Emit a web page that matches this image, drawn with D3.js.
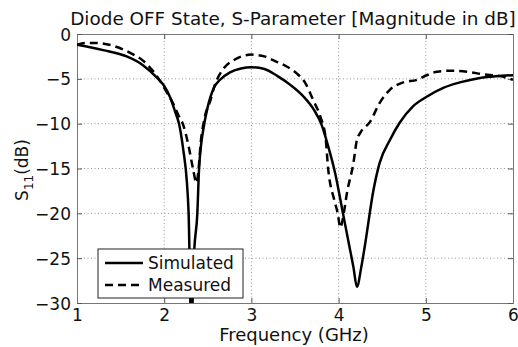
<!DOCTYPE html>
<html>
<head>
<meta charset="utf-8">
<script src="https://cdn.jsdelivr.net/npm/d3@7"></script>
<style>
  body { margin: 0; background: #fff; }
  text { font-family: "DejaVu Sans", Arial, sans-serif; fill: #111; }
</style>
</head>
<body>
<svg id="chart" width="518" height="347"></svg>
<script>
// tick values
const xTicks = [1, 2, 3, 4, 5, 6];
const yTicks = [0, -5, -10, -15, -20, -25, -30];

// simulated S11 (solid)
const simFreq = [1.0, 1.3, 1.57, 1.76, 1.92, 2.0, 2.07, 2.13, 2.17, 2.22, 2.26, 2.28, 2.31,
  2.345, 2.38, 2.40, 2.46, 2.50, 2.57, 2.64, 2.75, 2.88, 3.0, 3.15, 3.3, 3.45, 3.6, 3.72, 3.8,
  3.88, 3.96, 4.05, 4.12, 4.17, 4.21, 4.26, 4.30, 4.40, 4.47, 4.59, 4.70, 4.85, 5.01, 5.2,
  5.39, 5.62, 5.8, 6.0];
const simDb = [-1.2, -1.8, -2.5, -3.5, -4.9, -5.8, -7.1, -8.8, -10.0, -13.0, -16.5, -20.0, -33.0,
  -24.0, -20.0, -15.0, -10.0, -8.1, -6.0, -5.1, -4.3, -3.85, -3.7, -3.9, -4.7, -5.7, -7.0, -8.5, -10.0,
  -12.5, -15.5, -20.0, -23.5, -26.0, -28.2, -26.0, -23.7, -17.4, -14.4, -11.8, -9.9, -8.1, -7.0, -6.0,
  -5.4, -4.9, -4.7, -4.6];

// measured S11 (dashed)
const measFreq = [1.0, 1.1, 1.23, 1.41, 1.61, 1.76, 1.86, 1.95, 2.03, 2.1, 2.16, 2.22, 2.28,
  2.33, 2.37, 2.39, 2.42, 2.46, 2.53, 2.58, 2.67, 2.8, 3.0, 3.15, 3.29, 3.4, 3.52, 3.62, 3.71, 3.79,
  3.85, 3.88, 3.95, 3.99, 4.02, 4.04, 4.10, 4.17, 4.21, 4.25, 4.36, 4.47, 4.59, 4.74, 4.9, 5.01,
  5.13, 5.28, 5.47, 5.66, 5.85, 6.0];
const measDb = [-1.2, -1.0, -1.0, -1.3, -2.1, -3.0, -4.0, -5.2, -6.5, -7.7, -9.0, -10.2, -12.5,
  -15.0, -16.6, -15.5, -12.0, -9.5, -7.4, -5.7, -4.0, -2.9, -2.3, -2.5, -3.1, -3.6, -4.4, -5.5, -7.4, -9.2,
  -11.5, -15.0, -18.5, -20.0, -21.6, -21.0, -17.5, -14.4, -11.8, -11.0, -9.8, -7.7, -6.2, -5.4, -5.1, -4.6,
  -4.2, -4.1, -4.2, -4.5, -4.7, -5.1];

const legendLabels = ["Simulated", "Measured"];

const svg = d3.select("#chart");
const plotL = 77, plotR = 513, plotT = 34, plotB = 303;

const x = d3.scaleLinear().domain([1, 6]).range([plotL, plotR]);
const y = d3.scaleLinear().domain([-30, 0]).range([plotB, plotT]);

svg.append("rect").attr("width", 518).attr("height", 347).attr("fill", "#fff");

svg.append("defs").append("clipPath").attr("id", "plot")
  .append("rect").attr("x", plotL).attr("y", plotT)
  .attr("width", plotR - plotL).attr("height", plotB - plotT);

// dotted grid
svg.append("g")
  .selectAll("line").data(xTicks.slice(1, -1)).join("line")
  .attr("x1", d => x(d)).attr("x2", d => x(d))
  .attr("y1", plotT).attr("y2", plotB)
  .attr("stroke", "#999").attr("stroke-dasharray", "1,2.5");
svg.append("g")
  .selectAll("line").data(yTicks.slice(1, -1)).join("line")
  .attr("y1", d => y(d)).attr("y2", d => y(d))
  .attr("x1", plotL).attr("x2", plotR)
  .attr("stroke", "#999").attr("stroke-dasharray", "1,2.5");

// axes: ticks pointing inward, labels outside
const xAxis = svg.append("g").attr("transform", "translate(0," + plotB + ")")
  .call(d3.axisBottom(x).tickValues(xTicks).tickSize(-5).tickPadding(6).tickFormat(d3.format("d")));
const xTop = svg.append("g").attr("transform", "translate(0," + plotT + ")")
  .call(d3.axisTop(x).tickValues(xTicks).tickSize(-5).tickFormat(""));
const yAxis = svg.append("g").attr("transform", "translate(" + plotL + ",0)")
  .call(d3.axisLeft(y).tickValues(yTicks).tickSize(-5).tickPadding(6).tickFormat(d3.format("d")));
const yRight = svg.append("g").attr("transform", "translate(" + plotR + ",0)")
  .call(d3.axisRight(y).tickValues(yTicks).tickSize(-5).tickFormat(""));

[xAxis, xTop, yAxis, yRight].forEach(g => {
  g.select(".domain").attr("stroke", "#777");
  g.selectAll(".tick line").attr("stroke", "#555");
  g.selectAll("text").attr("font-size", 17).attr("fill", "#111")
    .style("font-family", "'DejaVu Sans', Arial, sans-serif");
});
yAxis.selectAll("text").attr("dy", "0.36em");

// curves
const simData = simFreq.map((f, i) => [f, simDb[i]]);
const measData = measFreq.map((f, i) => [f, measDb[i]]);
const line = d3.line().x(d => x(d[0])).y(d => y(d[1])).curve(d3.curveMonotoneX);

const curves = svg.append("g").attr("clip-path", "url(#plot)");
curves.append("path").datum(simData).attr("d", line)
  .attr("fill", "none").attr("stroke", "#000").attr("stroke-width", 2.5);
curves.append("path").datum(measData).attr("d", line)
  .attr("fill", "none").attr("stroke", "#000").attr("stroke-width", 2.5)
  .attr("stroke-dasharray", "8,5");

// legend
const lg = svg.append("g").attr("transform", "translate(98,249)");
lg.append("rect").attr("width", 145).attr("height", 49)
  .attr("fill", "#fff").attr("stroke", "#222").attr("stroke-width", 1);
legendLabels.forEach((name, i) => {
  const yy = 14 + i * 22;
  lg.append("line").attr("x1", 7).attr("x2", 45).attr("y1", yy).attr("y2", yy)
    .attr("stroke", "#000").attr("stroke-width", 2.5)
    .attr("stroke-dasharray", i === 1 ? "8,5" : null);
  lg.append("text").attr("x", 50).attr("y", yy).attr("dy", "0.36em")
    .attr("font-size", 17).text(name);
});

// title and axis labels
svg.append("text").attr("x", 293).attr("y", 25).attr("text-anchor", "middle")
  .attr("font-size", 18.4).text("Diode OFF State, S-Parameter [Magnitude in dB]");
svg.append("text").attr("x", 294).attr("y", 341).attr("text-anchor", "middle")
  .attr("font-size", 18).text("Frequency (GHz)");

const yl = svg.append("text").attr("transform", "translate(28,170) rotate(-90)")
  .attr("text-anchor", "middle").attr("font-size", 17);
yl.append("tspan").text("S");
yl.append("tspan").attr("font-size", 12).attr("dy", 5).text("11");
yl.append("tspan").attr("dy", -5).text("(dB)");
</script>
</body>
</html>
